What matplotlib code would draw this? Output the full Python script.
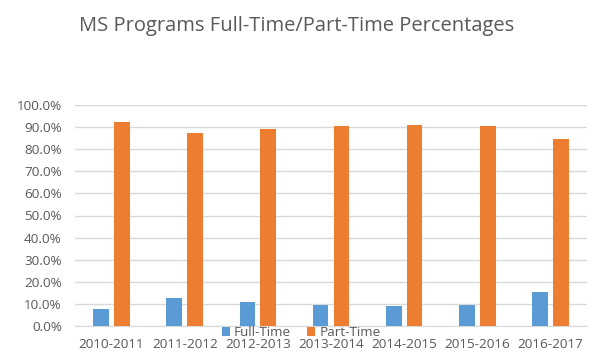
import numpy as np
import matplotlib.pyplot as plt
from matplotlib.ticker import PercentFormatter

years = ["2010-2011", "2011-2012", "2012-2013", "2013-2014",
         "2014-2015", "2015-2016", "2016-2017"]
full_time = [7.8, 12.8, 10.7, 9.6, 9.1, 9.6, 15.5]
part_time = [92.2, 87.2, 89.3, 90.4, 90.9, 90.4, 84.5]

plt.rcParams['font.family'] = ['Open Sans', 'DejaVu Sans']
text_color = '#595959'

fig = plt.figure(figsize=(5.92, 3.57), dpi=100)
ax = fig.add_axes([75 / 592, 31 / 357, 512 / 592, 221 / 357])

x = np.arange(len(years))
width = 0.215
offset = 0.142
ax.bar(x - offset, full_time, width, color='#5B9BD5', label='Full-Time', zorder=3)
ax.bar(x + offset, part_time, width, color='#ED7D31', label='Part-Time', zorder=3)

ax.set_xlim(-0.5, len(years) - 0.5)
ax.set_ylim(0, 100)
ax.set_yticks(np.arange(0, 101, 10))
ax.yaxis.set_major_formatter(PercentFormatter(decimals=1))
ax.set_xticks(x)
ax.set_xticklabels(years)
ax.tick_params(axis='both', length=0, labelsize=9.7, colors=text_color)
ax.tick_params(axis='x', pad=9)
ax.tick_params(axis='y', pad=9.5)
ax.grid(axis='y', color='#D9D9D9', linewidth=1, zorder=0)
for side in ['top', 'right', 'left']:
    ax.spines[side].set_visible(False)
ax.spines['bottom'].set_color('#D9D9D9')

fig.text(0.5 * (78 + 515) / 592, 1 - 26 / 357,
         "MS Programs Full-Time/Part-Time Percentages",
         ha='center', va='center', fontsize=14.5, color=text_color)

leg = fig.legend(loc='center', bbox_to_anchor=(301 / 592, 1 - 333 / 357),
                 ncol=2, frameon=False, fontsize=9.7, handlelength=0.6,
                 handleheight=0.6, handletextpad=0.3, columnspacing=1.2,
                 borderpad=0)
for t in leg.get_texts():
    t.set_color(text_color)

fig.savefig("out.png", dpi=100)
